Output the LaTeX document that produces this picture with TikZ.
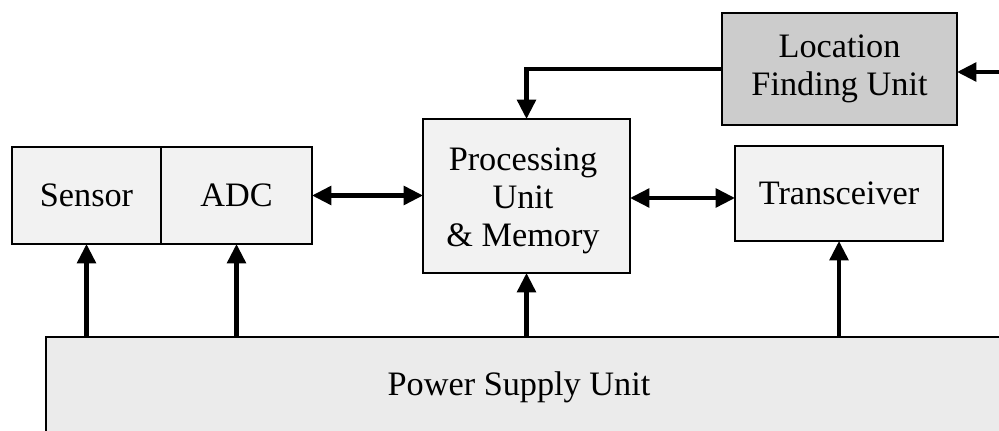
\documentclass[tikz,border=0pt]{standalone}
\usepackage{fontspec}
\setmainfont{Liberation Serif}
\usetikzlibrary{arrows.meta}

\begin{document}
\begin{tikzpicture}[x=0.02cm,y=-0.02cm,
  every node/.style={inner sep=0pt,outer sep=0pt,font=\fontsize{19.5}{21.5}\selectfont,align=center},
  unitbox/.style={draw=black,line width=1.1pt,fill=black!5,rectangle},
  darkbox/.style={unitbox,fill=black!20},
  powerbox/.style={unitbox,fill=black!8},
  bus/.style={line width=2.4pt,-{Triangle[length=11pt,width=10.5pt]}},
  duplex/.style={line width=2.4pt,{Triangle[length=11pt,width=10.5pt]}-{Triangle[length=11pt,width=10.5pt]}}]

  % page frame: pixel-like coordinates, origin at top left
  \clip (0,0) rectangle (999,431);
  \fill[white] (0,0) rectangle (999,431);

  % functional blocks
  \node[unitbox,minimum width=149*0.02cm,minimum height=97*0.02cm] (sensor) at (86.5,195.5) {Sensor};
  \node[unitbox,minimum width=151*0.02cm,minimum height=97*0.02cm] (adc) at (236.5,195.5) {ADC};
  \node[unitbox,minimum width=207*0.02cm,minimum height=154*0.02cm] (proc) at (526.5,196) {};
  \node (proclbl) at (523,201) {Processing\\Unit\\\&~Memory};
  \node[unitbox,minimum width=208*0.02cm,minimum height=95*0.02cm] (trans) at (839,193.5) {Transceiver};
  \node[darkbox,minimum width=235*0.02cm,minimum height=112*0.02cm] (loc) at (839.5,69) {Location\\Finding Unit};

  % power supply strip running off the lower and right edges
  \node[powerbox,minimum width=970*0.02cm,minimum height=120*0.02cm] (power) at (531,397) {};
  \node (powerlbl) at (519,387) {Power Supply Unit};

  % power feeds
  \draw[bus] (power.north -| sensor.south) -- (sensor.south);
  \draw[bus] (power.north -| adc.south) -- (adc.south);
  \draw[bus] (power.north -| proc.south) -- (proc.south);
  \draw[bus] (power.north -| trans.south) -- (trans.south);

  % data paths
  \draw[duplex] (adc.east) -- (adc.east -| proc.west);
  \draw[duplex] (proc.east |- 0,198) -- (trans.west |- 0,198);
  \draw[bus] (loc.west) -- (loc.west -| proc.north) -- (proc.north);

  % external input to the location finder
  \coordinate (extin) at (1005,72);
  \draw[bus] (extin) -- (extin -| loc.east);
\end{tikzpicture}
\end{document}
